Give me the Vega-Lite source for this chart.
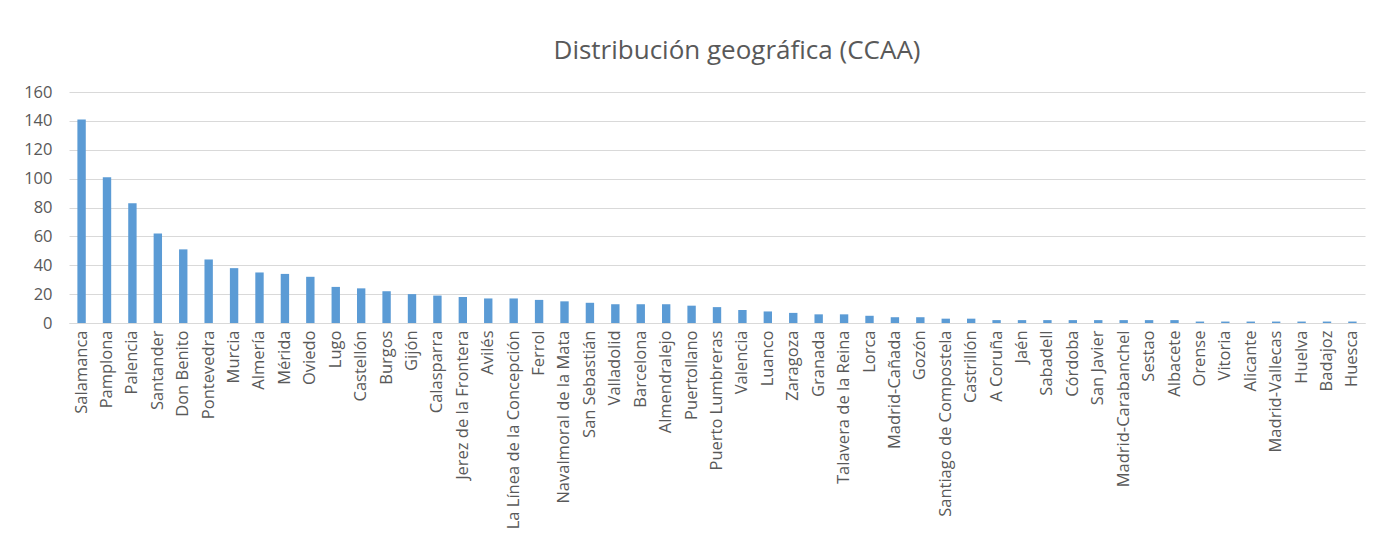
{
  "$schema": "https://vega.github.io/schema/vega-lite/v6.json",
  "width": 1296,
  "height": 231,
  "autosize": {"type": "none"},
  "padding": {"left": 69, "top": 92, "right": 30, "bottom": 220},
  "background": "white",
  "title": {
    "text": "Distribución geográfica (CCAA)",
    "font": "Open Sans",
    "fontSize": 26,
    "fontWeight": "normal",
    "color": "#595959",
    "offset": 20,
    "dx": 20
  },
  "data": {
    "values": [
      {"ciudad": "Salamanca", "n": 141},
      {"ciudad": "Pamplona", "n": 101},
      {"ciudad": "Palencia", "n": 83},
      {"ciudad": "Santander", "n": 62},
      {"ciudad": "Don Benito", "n": 51},
      {"ciudad": "Pontevedra", "n": 44},
      {"ciudad": "Murcia", "n": 38},
      {"ciudad": "Almería", "n": 35},
      {"ciudad": "Mérida", "n": 34},
      {"ciudad": "Oviedo", "n": 32},
      {"ciudad": "Lugo", "n": 25},
      {"ciudad": "Castellón", "n": 24},
      {"ciudad": "Burgos", "n": 22},
      {"ciudad": "Gijón", "n": 20},
      {"ciudad": "Calasparra", "n": 19},
      {"ciudad": "Jerez de la Frontera", "n": 18},
      {"ciudad": "Avilés", "n": 17},
      {"ciudad": "La Línea de la Concepción", "n": 17},
      {"ciudad": "Ferrol", "n": 16},
      {"ciudad": "Navalmoral de la Mata", "n": 15},
      {"ciudad": "San Sebastián", "n": 14},
      {"ciudad": "Valladolid", "n": 13},
      {"ciudad": "Barcelona", "n": 13},
      {"ciudad": "Almendralejo", "n": 13},
      {"ciudad": "Puertollano", "n": 12},
      {"ciudad": "Puerto Lumbreras", "n": 11},
      {"ciudad": "Valencia", "n": 9},
      {"ciudad": "Luanco", "n": 8},
      {"ciudad": "Zaragoza", "n": 7},
      {"ciudad": "Granada", "n": 6},
      {"ciudad": "Talavera de la Reina", "n": 6},
      {"ciudad": "Lorca", "n": 5},
      {"ciudad": "Madrid-Cañada", "n": 4},
      {"ciudad": "Gozón", "n": 4},
      {"ciudad": "Santiago de Compostela", "n": 3},
      {"ciudad": "Castrillón", "n": 3},
      {"ciudad": "A Coruña", "n": 2},
      {"ciudad": "Jaén", "n": 2},
      {"ciudad": "Sabadell", "n": 2},
      {"ciudad": "Córdoba", "n": 2},
      {"ciudad": "San Javier", "n": 2},
      {"ciudad": "Madrid-Carabanchel", "n": 2},
      {"ciudad": "Sestao", "n": 2},
      {"ciudad": "Albacete", "n": 2},
      {"ciudad": "Orense", "n": 1},
      {"ciudad": "Vitoria", "n": 1},
      {"ciudad": "Alicante", "n": 1},
      {"ciudad": "Madrid-Vallecas", "n": 1},
      {"ciudad": "Huelva", "n": 1},
      {"ciudad": "Badajoz", "n": 1},
      {"ciudad": "Huesca", "n": 1}
    ]
  },
  "mark": {"type": "bar", "color": "#5B9BD5"},
  "encoding": {
    "x": {
      "field": "ciudad",
      "type": "nominal",
      "sort": null,
      "scale": {"paddingInner": 0.67, "paddingOuter": 0.33},
      "axis": {
        "title": null,
        "labelAngle": -90,
        "labelAlign": "right",
        "labelBaseline": "middle",
        "labelFont": "Open Sans",
        "labelFontSize": 16.5,
        "labelColor": "#595959",
        "labelPadding": 7,
        "ticks": false,
        "domainColor": "#d9d9d9",
        "domainWidth": 1,
        "labelOverlap": false,
        "labelLimit": 0
      }
    },
    "y": {
      "field": "n",
      "type": "quantitative",
      "scale": {"domain": [0, 160]},
      "axis": {
        "title": null,
        "values": [0, 20, 40, 60, 80, 100, 120, 140, 160],
        "labelFont": "Open Sans",
        "labelFontSize": 16.5,
        "labelColor": "#595959",
        "labelPadding": 17,
        "ticks": false,
        "domain": false,
        "gridColor": "#d9d9d9",
        "gridWidth": 1
      }
    }
  },
  "config": {"view": {"stroke": null}}
}
